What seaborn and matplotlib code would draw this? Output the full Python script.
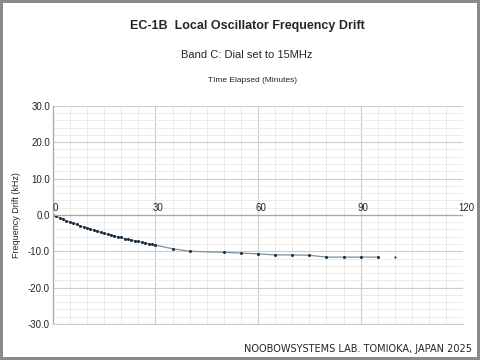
import numpy as np
import pandas as pd
import matplotlib
matplotlib.use('Agg')
import matplotlib.pyplot as plt
import seaborn as sns
from matplotlib.ticker import MultipleLocator, FormatStrFormatter

# drift readings (minutes, kHz)
minutes = [0, 1, 2, 3, 4, 5, 6, 7, 8, 9, 10, 11, 12, 13, 14, 15, 16, 17, 18, 19,
           20, 21, 22, 23, 24, 25, 26, 27, 28, 29, 30, 35, 40, 50, 55, 60, 65,
           70, 75, 80, 85, 90, 95]
drift_khz = [0.0, -0.4, -0.8, -1.2, -1.6, -2.0, -2.3, -2.6, -3.0, -3.3, -3.6,
             -3.9, -4.2, -4.5, -4.8, -5.0, -5.3, -5.5, -5.8, -6.0, -6.2, -6.5,
             -6.7, -6.9, -7.1, -7.3, -7.5, -7.7, -7.9, -8.1, -8.3, -9.3, -10.0,
             -10.3, -10.5, -10.7, -11.0, -11.0, -11.1, -11.6, -11.6, -11.6, -11.6]

# last reading is shown as a lone point
extra_minutes = [100]
extra_drift = [-11.6]

x_ticks = [0, 30, 60, 90, 120]

df = pd.DataFrame({'minutes': minutes, 'drift': drift_khz})
df_extra = pd.DataFrame({'minutes': extra_minutes, 'drift': extra_drift})

sns.set_style('white')
plt.rcParams['font.family'] = ['Liberation Sans', 'DejaVu Sans']

fig = plt.figure(figsize=(4.8, 3.6), dpi=100, edgecolor='#8a8a8a', linewidth=4)
ax = fig.add_axes([0.110, 0.100, 0.855, 0.606])

sns.lineplot(data=df, x='minutes', y='drift', ax=ax, color='#7890a0',
             linewidth=0.9, marker='o', markersize=1.4,
             markerfacecolor='#1c2c3c', markeredgecolor='#1c2c3c')
sns.scatterplot(data=df_extra, x='minutes', y='drift', ax=ax, color='#1c2c3c',
                s=2, edgecolor='#1c2c3c')

ax.set_xlim(0, 120)
ax.set_ylim(-30, 30)
ax.xaxis.set_major_locator(MultipleLocator(30))
ax.xaxis.set_minor_locator(MultipleLocator(5))
ax.yaxis.set_major_locator(MultipleLocator(10))
ax.yaxis.set_minor_locator(MultipleLocator(2))
ax.yaxis.set_major_formatter(FormatStrFormatter('%.1f'))

ax.grid(which='major', color='#cccccc', linewidth=0.8)
ax.grid(which='minor', color='#e8e8e8', linewidth=0.6)
ax.set_axisbelow(True)

# x axis runs along zero, labels sit just above it
ax.axhline(0, color='#a8a8a8', linewidth=0.9)
ax.tick_params(axis='x', which='both', length=0, labelbottom=False)
ax.tick_params(axis='y', which='both', length=0, labelsize=7, pad=2)
for t in x_ticks:
    ax.text(t + 0.8, 0.6, str(t), ha='center', va='bottom', fontsize=7)

for side in ['top', 'right']:
    ax.spines[side].set_visible(False)
ax.spines['left'].set_color('#a8a8a8')
ax.spines['bottom'].set_color('#cccccc')
ax.spines['left'].set_linewidth(0.9)

ax.set_xlabel('')
ax.set_ylabel('Frequency Drift (kHz)', fontsize=6.5, labelpad=5)

fig.text(0.515, 0.928, 'EC-1B  Local Oscillator Frequency Drift', ha='center',
         va='center', fontsize=9, fontweight='bold')
fig.text(0.515, 0.848, 'Band C: Dial set to 15MHz', ha='center', va='center',
         fontsize=8)
fig.text(0.527, 0.775, 'TIme Elapsed (Minutes)', ha='center', va='center',
         fontsize=6)
fig.text(0.983, 0.018, 'NOOBOWSYSTEMS LAB. TOMIOKA, JAPAN 2025', ha='right',
         va='bottom', fontsize=7, family='DejaVu Sans')

fig.savefig('out.png', dpi=100, edgecolor=fig.get_edgecolor())
